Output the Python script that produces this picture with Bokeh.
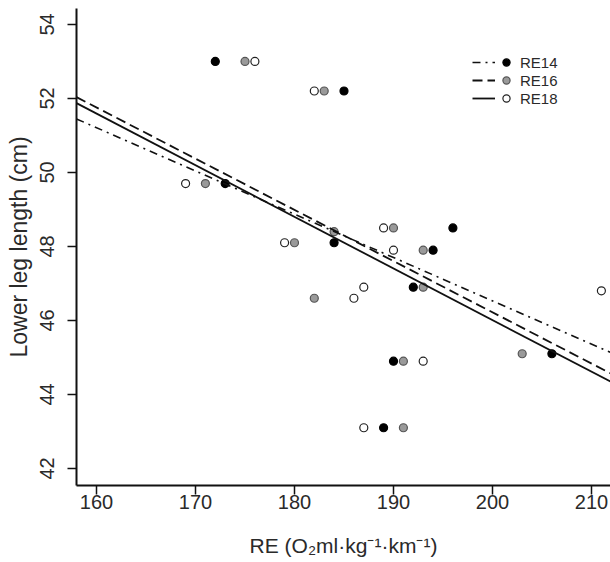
import numpy as np
from bokeh.plotting import figure
from bokeh.models import Range1d, Legend, LegendItem, FixedTicker
from bokeh.embed import file_html
from bokeh.resources import INLINE

# ---- data ----
re_ticks = [160, 170, 180, 190, 200, 210]
leg_ticks = [42, 44, 46, 48, 50, 52, 54]

re14_x = [172, 185, 173, 184, 196, 194, 192, 190, 189, 206]
re14_y = [53.0, 52.2, 49.7, 48.1, 48.5, 47.9, 46.9, 44.9, 43.1, 45.1]

re16_x = [175, 183, 171, 180, 184, 190, 193, 182, 193, 191, 191, 203]
re16_y = [53.0, 52.2, 49.7, 48.1, 48.4, 48.5, 47.9, 46.6, 46.9, 44.9, 43.1, 45.1]

re18_x = [176, 182, 169, 179, 189, 190, 187, 186, 193, 187, 211]
re18_y = [53.0, 52.2, 49.7, 48.1, 48.5, 47.9, 46.9, 46.6, 44.9, 43.1, 46.8]

# regression lines (intercept, slope)
fit_re14 = (69.93, -0.1170)
fit_re16 = (73.90, -0.1384)
fit_re18 = (73.91, -0.1395)

series_names = ["RE14", "RE16", "RE18"]

X0, X1 = 157.98, 211.92
Y0, Y1 = 41.54, 54.43

FONT = "Liberation Sans"
TXT = "#2a2a2a"

p = figure(width=610, height=562, x_range=Range1d(X0, X1), y_range=Range1d(Y0, Y1),
           output_backend="svg", toolbar_location=None,
           min_border_left=76, min_border_right=0, min_border_top=8, min_border_bottom=77)
p.outline_line_color = None
p.grid.visible = False
p.background_fill_color = "white"
p.border_fill_color = "white"

for ax in (p.xaxis[0], p.yaxis[0]):
    ax.axis_line_color = "#111111"
    ax.axis_line_width = 2
    ax.major_tick_line_color = "#111111"
    ax.major_tick_line_width = 1.5
    ax.major_tick_out = 9
    ax.major_tick_in = 0
    ax.minor_tick_line_color = None
    ax.major_label_text_font = FONT
    ax.major_label_text_font_size = "20px"
    ax.major_label_text_color = TXT
    ax.axis_label_text_font = FONT
    ax.axis_label_text_font_style = "normal"
    ax.axis_label_text_color = TXT

p.xaxis.ticker = FixedTicker(ticks=re_ticks)
p.yaxis.ticker = FixedTicker(ticks=leg_ticks)
p.yaxis.major_label_orientation = "vertical"
p.xaxis.major_label_standoff = 0
p.yaxis.major_label_standoff = 13
p.xaxis.axis_label_standoff = 22
p.yaxis.axis_label_standoff = 6
p.xaxis.axis_label_text_font_size = "21px"
p.yaxis.axis_label_text_font_size = "23px"
p.xaxis.axis_label = "RE (O\u2082ml\u00b7kg\u207b\u00b9\u00b7km\u207b\u00b9)"
p.yaxis.axis_label = "Lower leg length (cm)"

# points
r18 = p.scatter(re18_x, re18_y, size=8, marker="circle", fill_color="white",
                line_color="#222222", line_width=1.2)
r16 = p.scatter(re16_x, re16_y, size=8, marker="circle", fill_color="#9a9a9a",
                line_color="#555555", line_width=1.2)
r14 = p.scatter(re14_x, re14_y, size=8, marker="circle", fill_color="black",
                line_color="black", line_width=1.2)

# regression lines
xs = np.array([X0, X1])
l14 = p.line(xs, fit_re14[0] + fit_re14[1] * xs, line_color="#111111", line_width=1.6,
             line_dash="8 5 2 5")
l16 = p.line(xs, fit_re16[0] + fit_re16[1] * xs, line_color="#111111", line_width=1.8,
             line_dash="10 5")
l18 = p.line(xs, fit_re18[0] + fit_re18[1] * xs, line_color="#111111", line_width=1.8)

common = dict(padding=0, margin=0, border_line_color=None, background_fill_alpha=0,
              spacing=0, label_height=18, glyph_height=18)

leg_lines = Legend(items=[LegendItem(label=" ", renderers=[r]) for r in (l14, l16, l18)],
                   location=(396, 378), glyph_width=23, label_width=0, label_standoff=0,
                   label_text_font_size="1px", **common)
leg_pts = Legend(items=[LegendItem(label=n, renderers=[r]) for n, r in
                        zip(series_names, (r14, r16, r18))],
                 location=(420, 378), glyph_width=20, label_standoff=4,
                 label_text_font=FONT, label_text_font_size="15px",
                 label_text_color=TXT, **common)
p.add_layout(leg_lines, "center")
p.add_layout(leg_pts, "center")

open("out.html", "w").write(file_html(p, INLINE))
